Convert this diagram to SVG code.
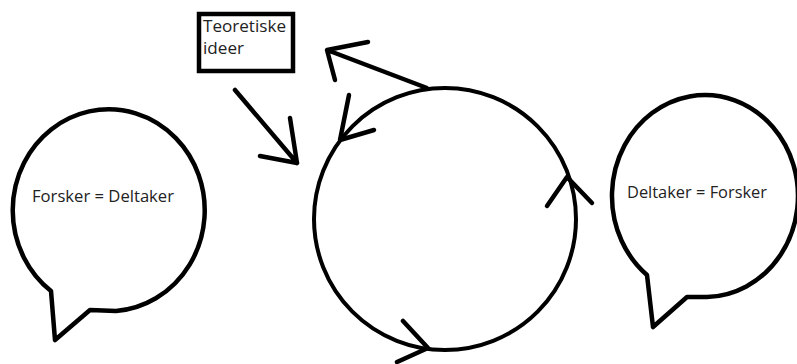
<svg xmlns="http://www.w3.org/2000/svg" width="797" height="364" viewBox="0 0 797 364">
<style>
.ln{fill:none;stroke:#000;stroke-width:4.5;stroke-linecap:round;stroke-linejoin:round}
.bub{fill:#fff;stroke:#000;stroke-width:4.5;stroke-linejoin:round}
.t{font-family:"Open Sans","Liberation Sans",sans-serif;fill:#222}
</style>
<rect width="797" height="364" fill="#fff"/>
<g id="bubble-left">
<path class="bub" d="M 51 291 A 96 101 0 1 1 116 311 L 90 310 L 55 340 Z"/>
<text class="t" x="32" y="202" font-size="15.5" textLength="142" lengthAdjust="spacingAndGlyphs">Forsker = Deltaker</text>
</g>
<g id="bubble-right">
<path class="bub" d="M 647 275 A 93 101 0 1 1 707 297 L 687 297 L 653 327 Z"/>
<text class="t" x="627" y="198" font-size="15.5" textLength="140" lengthAdjust="spacingAndGlyphs">Deltaker = Forsker</text>
</g>
<g id="box-teoretiske">
<rect x="199" y="14" width="94" height="57" fill="#fff" stroke="#000" stroke-width="4.5"/>
<text class="t" x="203" y="32" font-size="16.5" textLength="83" lengthAdjust="spacingAndGlyphs">Teoretiske</text>
<text class="t" x="203" y="54" font-size="16.5" textLength="41" lengthAdjust="spacingAndGlyphs">ideer</text>
</g>
<g id="cycle">
<circle cx="445" cy="219" r="131" fill="none" stroke="#000" stroke-width="4"/>
</g>
<g id="connectors">
<path class="ln" d="M 427 88 L 327 50 M 368 42 L 327 50 L 335 80"/>
<path class="ln" d="M 235 90 L 297 163 M 290 118 L 297 163 L 260 156"/>
<path class="ln" d="M 349 95 L 340 140 L 374 130"/>
<path class="ln" d="M 547 206 L 567 177 L 592 203"/>
<path class="ln" d="M 403 321 L 428 348 L 397 362"/>
</g>
</svg>
